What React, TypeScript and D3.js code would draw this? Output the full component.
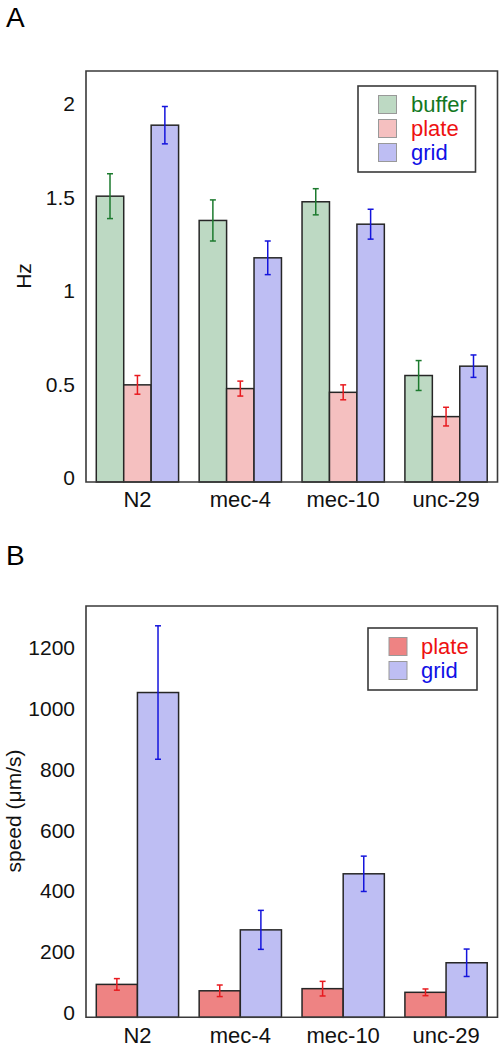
import React from "react";
import * as d3 from "d3";

const categories = ["N2", "mec-4", "mec-10", "unc-29"];

// Panel A (Hz)
const seriesA = ["buffer", "plate", "grid"];
const bufferHz = [1.53, 1.4, 1.5, 0.57];
const bufferHzErr = [0.12, 0.11, 0.07, 0.08];
const plateHz = [0.52, 0.5, 0.48, 0.35];
const plateHzErr = [0.05, 0.04, 0.04, 0.05];
const gridHz = [1.91, 1.2, 1.38, 0.62];
const gridHzErr = [0.1, 0.09, 0.08, 0.06];
const ticksA = [0, 0.5, 1, 1.5, 2];
const tickLabelsA = ["0", "0.5", "1", "1.5", "2"];

// Panel B (speed)
const seriesB = ["plate", "grid"];
const plateSpeed = [108, 87, 94, 82];
const plateSpeedErr = [19, 19, 24, 11];
const gridSpeed = [1066, 287, 471, 179];
const gridSpeedErr = [219, 64, 58, 45];
const ticksB = [0, 200, 400, 600, 800, 1000, 1200];

const FONT = "'Liberation Sans', Arial, Helvetica, sans-serif";

type Style = { fill: string; err: string; text: string };

const stylesA: Record<string, Style> = {
  buffer: { fill: "#bdd9c3", err: "#1c7a2e", text: "#13781f" },
  plate: { fill: "#f5c0c0", err: "#e81a1f", text: "#ee1111" },
  grid: { fill: "#bebef3", err: "#1414dc", text: "#1010e6" },
};
const stylesB: Record<string, Style> = {
  plate: { fill: "#ee8383", err: "#e81a1f", text: "#ee1111" },
  grid: { fill: "#bebef3", err: "#1414dc", text: "#1010e6" },
};

type Panel = {
  letter: string;
  letterY: number;
  left: number;
  right: number;
  top: number;
  bottom: number;
  yMax: number;
  ticks: number[];
  tickLabels: string[];
  series: string[];
  values: number[][];
  errs: number[][];
  styles: Record<string, Style>;
  yLabel: string;
  yLabelX: number;
  yLabelY: number;
  catLabelY: number;
  legend: { x0: number; y0: number; x1: number; y1: number; swX: number; swY: number; rowH: number; textX: number };
};

function PanelChart({ p }: { p: Panel }) {
  const x = d3
    .scaleBand<string>()
    .domain(categories)
    .range([p.left, p.right])
    .paddingInner(0.2)
    .paddingOuter(0.1);
  const xs = d3.scaleBand<string>().domain(p.series).range([0, x.bandwidth()]);
  const y = d3.scaleLinear().domain([0, p.yMax]).range([p.bottom, p.top]);
  const cap = 3;
  return (
    <g>
      <text x={6} y={p.letterY} fontFamily={FONT} fontSize={28}>
        {p.letter}
      </text>
      {/* bars */}
      {categories.map((c, ci) => (
        <g key={c}>
          {p.series.map((s, si) => {
            const v = p.values[si][ci];
            const bx = (x(c) as number) + (xs(s) as number);
            return (
              <rect
                key={s}
                x={bx}
                y={y(v)}
                width={xs.bandwidth()}
                height={y(0) - y(v)}
                fill={p.styles[s].fill}
                stroke="#262626"
                strokeWidth={1.5}
              />
            );
          })}
          {p.series.map((s, si) => {
            const v = p.values[si][ci];
            const e = p.errs[si][ci];
            const cx = (x(c) as number) + (xs(s) as number) + xs.bandwidth() / 2;
            const col = p.styles[s].err;
            return (
              <g key={s + "e"} stroke={col} strokeWidth={1.5}>
                <line x1={cx} x2={cx} y1={y(v + e)} y2={y(v - e)} />
                <line x1={cx - cap} x2={cx + cap} y1={y(v + e)} y2={y(v + e)} />
                <line x1={cx - cap} x2={cx + cap} y1={y(v - e)} y2={y(v - e)} />
              </g>
            );
          })}
          <text
            x={(x(c) as number) + x.bandwidth() / 2}
            y={p.catLabelY}
            textAnchor="middle"
            fontFamily={FONT}
            fontSize={22}
            fill="#111"
          >
            {c}
          </text>
        </g>
      ))}
      {/* frame */}
      <path
        d={`M${p.left},${p.bottom} L${p.left},${p.top} L${p.right},${p.top} L${p.right},${p.bottom} Z`}
        fill="none"
        stroke="#3a3a3a"
        strokeWidth={1.6}
      />
      {/* y tick labels */}
      {p.ticks.map((t, i) => (
        <text
          key={t}
          x={75}
          y={y(t) + 3}
          textAnchor="end"
          fontFamily={FONT}
          fontSize={21}
          fill="#111"
        >
          {p.tickLabels[i]}
        </text>
      ))}
      <text
        transform={`translate(${p.yLabelX},${p.yLabelY}) rotate(-90)`}
        textAnchor="middle"
        fontFamily={FONT}
        fontSize={21}
        fill="#111"
      >
        {p.yLabel}
      </text>
      {/* legend */}
      <rect
        x={p.legend.x0}
        y={p.legend.y0}
        width={p.legend.x1 - p.legend.x0}
        height={p.legend.y1 - p.legend.y0}
        fill="#fff"
        stroke="#3a3a3a"
        strokeWidth={1.6}
      />
      {p.series.map((s, i) => {
        const sy = p.legend.swY + i * p.legend.rowH;
        return (
          <g key={s}>
            <rect
              x={p.legend.swX}
              y={sy}
              width={18}
              height={18}
              fill={p.styles[s].fill}
              stroke="#999"
              strokeWidth={1}
            />
            <text
              x={p.legend.textX}
              y={sy + 16}
              fontFamily={FONT}
              fontSize={22}
              fill={p.styles[s].text}
            >
              {s}
            </text>
          </g>
        );
      })}
    </g>
  );
}

export default function App() {
  const panelA: Panel = {
    letter: "A",
    letterY: 27,
    left: 86,
    right: 497.5,
    top: 71,
    bottom: 482,
    yMax: 2.2,
    ticks: ticksA,
    tickLabels: tickLabelsA,
    series: seriesA,
    values: [bufferHz, plateHz, gridHz],
    errs: [bufferHzErr, plateHzErr, gridHzErr],
    styles: stylesA,
    yLabel: "Hz",
    yLabelX: 31,
    yLabelY: 276,
    catLabelY: 507,
    legend: { x0: 358, y0: 86, x1: 475.5, y1: 172, swX: 378.5, swY: 95.5, rowH: 24, textX: 411 },
  };
  const panelB: Panel = {
    letter: "B",
    letterY: 565,
    left: 86,
    right: 497.5,
    top: 606,
    bottom: 1017.3,
    yMax: 1350,
    ticks: ticksB,
    tickLabels: ticksB.map((t) => String(t)),
    series: seriesB,
    values: [plateSpeed, gridSpeed],
    errs: [plateSpeedErr, gridSpeedErr],
    styles: stylesB,
    yLabel: "speed (μm/s)",
    yLabelX: 21,
    yLabelY: 811,
    catLabelY: 1043,
    legend: { x0: 368, y0: 628, x1: 477, y1: 690, swX: 389, swY: 637.5, rowH: 24, textX: 421 },
  };
  return (
    <div style={{ position: "absolute", left: 0, top: 0 }}>
      <svg width={500} height={1050} style={{ display: "block", background: "#fff" }}>
        <PanelChart p={panelA} />
        <PanelChart p={panelB} />
      </svg>
    </div>
  );
}
